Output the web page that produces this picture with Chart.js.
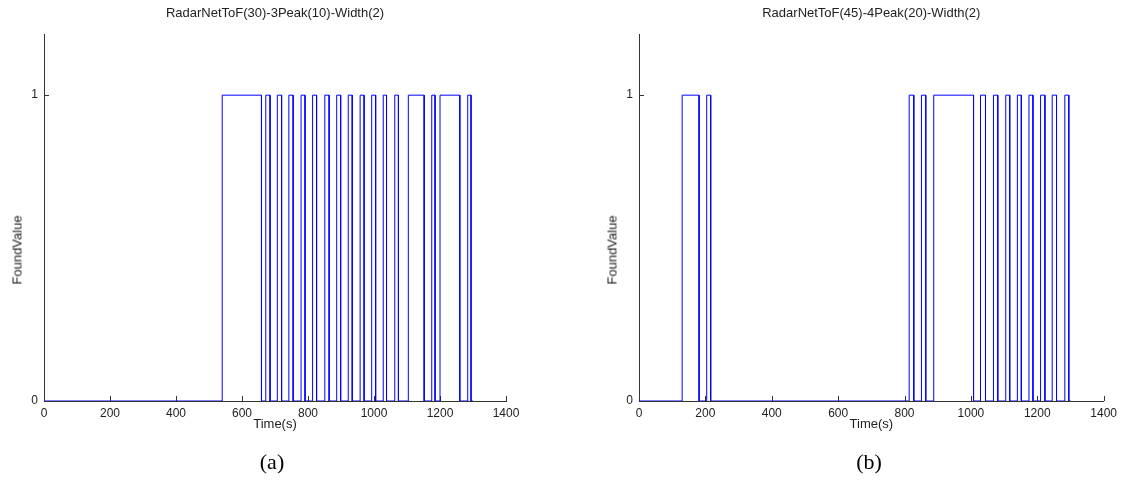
<!DOCTYPE html>
<html>
<head>
<meta charset="utf-8">
<script src="https://cdn.jsdelivr.net/npm/chart.js@4.4.1/dist/chart.umd.min.js"></script>
<style>
html,body{margin:0;padding:0;background:#fff;}
#wrap{position:relative;width:1122px;height:500px;overflow:hidden;background:#fff;}
.pane{position:absolute;top:0;width:561px;height:500px;}
.ylab{position:absolute;font:13px "Liberation Sans",Arial,sans-serif;color:#222;transform:translate(-50%,-50%) rotate(-90deg);white-space:nowrap;}
.cap{position:absolute;font:22px "Liberation Serif","Times New Roman",serif;color:#000;transform:translate(-50%,-50%);white-space:nowrap;}
</style>
</head>
<body>
<div id="wrap">
  <div class="pane" style="left:0px"><canvas id="ca" width="561" height="500"></canvas></div>
  <div class="pane" style="left:561px"><canvas id="cb" width="561" height="500"></canvas></div>
  <div class="ylab" style="left:17px;top:250px">FoundValue</div>
  <div class="ylab" style="left:612px;top:250px">FoundValue</div>
  <div class="cap" style="left:272px;top:462px">(a)</div>
  <div class="cap" style="left:869px;top:462px">(b)</div>
</div>
<script>
// ---- data ----
const xTickLabels = [0, 200, 400, 600, 800, 1000, 1200, 1400];
const yTickLabels = [0, 1];
const titleA = 'RadarNetToF(30)-3Peak(10)-Width(2)';
const titleB = 'RadarNetToF(45)-4Peak(20)-Width(2)';
const xLabel = 'Time(s)';
// pulse rising / falling times (s), value 1 between them, 0 elsewhere
const riseA = [540, 672, 707, 742, 779, 814, 851, 887, 922, 958, 993, 1028, 1063, 1104, 1175, 1200, 1284];
const fallA = [659, 685, 720, 755, 791, 826, 864, 899, 934, 970, 1005, 1038, 1074, 1152, 1185, 1260, 1294];
const riseB = [130, 204, 814, 851, 888, 1029, 1068, 1105, 1140, 1175, 1210, 1245, 1283];
const fallB = [181, 216, 828, 864, 1008, 1044, 1081, 1117, 1152, 1187, 1223, 1258, 1295];
const tStart = 0;
const tEnd = 1300;

function buildSeries(rise, fall) {
  const pts = [{x: tStart, y: 0}];
  for (let i = 0; i < rise.length; i++) {
    pts.push({x: rise[i], y: 0}, {x: rise[i], y: 1}, {x: fall[i], y: 1}, {x: fall[i], y: 0});
  }
  pts.push({x: tEnd, y: 0});
  return pts;
}

const FONT = '"Liberation Sans", Arial, sans-serif';
const AXIS = '#333333';
const TXT = '#222222';

const inTicks = {
  id: 'inTicks',
  beforeDatasetsDraw(chart) {
    const {ctx, chartArea: a, scales: {x, y}} = chart;
    ctx.save();
    ctx.strokeStyle = AXIS;
    ctx.lineWidth = 1;
    ctx.beginPath();
    x.ticks.forEach(t => {
      const px = Math.round(x.getPixelForValue(t.value)) + 0.5;
      ctx.moveTo(px, a.bottom);
      ctx.lineTo(px, a.bottom - 5);
    });
    y.ticks.forEach(t => {
      const py = Math.round(y.getPixelForValue(t.value)) + 0.5;
      ctx.moveTo(a.left, py);
      ctx.lineTo(a.left + 5, py);
    });
    ctx.stroke();
    ctx.restore();
  }
};

function makeChart(id, title, rise, fall, areaLeft, areaRight) {
  return new Chart(document.getElementById(id), {
    type: 'line',
    data: {
      datasets: [{
        data: buildSeries(rise, fall),
        borderColor: '#0000ff',
        borderWidth: 1,
        pointRadius: 0,
        fill: false,
        tension: 0
      }]
    },
    options: {
      responsive: false,
      animation: false,
      events: [],
      layout: {padding: {left: 0, right: 561 - areaRight, top: 0, bottom: 68}},
      plugins: {
        legend: {display: false},
        tooltip: {enabled: false},
        title: {
          display: true,
          text: title,
          fullSize: false,
          color: TXT,
          font: {family: FONT, size: 13, weight: 'normal'},
          padding: {top: 6, bottom: 12.4}
        }
      },
      scales: {
        x: {
          type: 'linear',
          min: 0,
          max: 1400,
          afterBuildTicks: s => { s.ticks = xTickLabels.map(v => ({value: v})); },
          afterFit: s => { s.height = 31; },
          grid: {display: false, drawTicks: false, tickLength: 0},
          border: {display: true, color: AXIS, width: 1},
          ticks: {
            autoSkip: false, maxRotation: 0, padding: 5, color: TXT,
            font: {family: FONT, size: 12},
            callback: v => String(v)
          },
          title: {display: true, text: xLabel, color: TXT, font: {family: FONT, size: 13}, padding: {top: 0, bottom: 0}}
        },
        y: {
          type: 'linear',
          min: 0,
          max: 1.2,
          afterBuildTicks: s => { s.ticks = yTickLabels.map(v => ({value: v})); },
          afterFit: s => { s.width = areaLeft; },
          grid: {display: false, drawTicks: false, tickLength: 0},
          border: {display: true, color: AXIS, width: 1},
          ticks: {
            padding: 6, color: TXT,
            font: {family: FONT, size: 12},
            callback: v => String(v)
          }
        }
      }
    },
    plugins: [inTicks]
  });
}

makeChart('ca', titleA, riseA, fallA, 44, 506);
makeChart('cb', titleB, riseB, fallB, 78, 543);
</script>
</body>
</html>
